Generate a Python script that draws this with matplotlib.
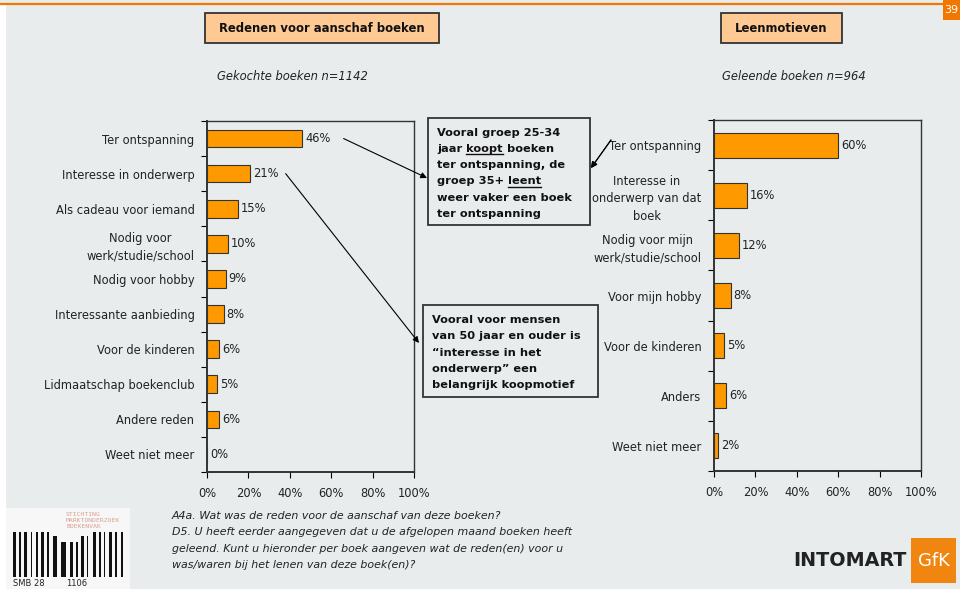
import matplotlib.pyplot as plt
from matplotlib.lines import Line2D
from matplotlib.patches import Rectangle

# --- data ---
buy_reasons = [
    "Ter ontspanning",
    "Interesse in onderwerp",
    "Als cadeau voor iemand",
    "Nodig voor\nwerk/studie/school",
    "Nodig voor hobby",
    "Interessante aanbieding",
    "Voor de kinderen",
    "Lidmaatschap boekenclub",
    "Andere reden",
    "Weet niet meer",
]
buy_pct = [46, 21, 15, 10, 9, 8, 6, 5, 6, 0]

lend_reasons = [
    "Ter ontspanning",
    "Interesse in\nonderwerp van dat\nboek",
    "Nodig voor mijn\nwerk/studie/school",
    "Voor mijn hobby",
    "Voor de kinderen",
    "Anders",
    "Weet niet meer",
]
lend_pct = [60, 16, 12, 8, 5, 6, 2]

x_ticks = [0, 20, 40, 60, 80, 100]

BG = "#e9eced"
ORANGE = "#ff9900"
W, H = 960, 589
fs = 8.3


def fx(px):
    return px / W


def fy(py):
    return 1 - py / H


fig = plt.figure(figsize=(9.6, 5.89), dpi=100, facecolor=BG)
plt.rcParams["font.family"] = ["DejaVu Sans"]


def bar_panel(rect, labels, values):
    ax = fig.add_axes(rect)
    ax.set_facecolor(BG)
    pos = list(range(len(labels)))
    ax.barh(pos, values, height=0.5, color=ORANGE, edgecolor="#333333", linewidth=0.8)
    for p, v in zip(pos, values):
        ax.text(v + 1.5, p, f"{v}%", va="center", ha="left", fontsize=fs, color="#222222")
    ax.set_xlim(0, 100)
    ax.set_ylim(len(labels) - 0.5, -0.5)
    ax.set_xticks(x_ticks, [f"{t}%" for t in x_ticks])
    ax.set_yticks(pos, labels)
    ax.set_yticks([p - 0.5 for p in pos] + [len(labels) - 0.5], minor=True)
    ax.tick_params(axis="y", which="major", length=0, pad=9, labelsize=fs, labelcolor="#222222")
    ax.tick_params(axis="y", which="minor", length=4, width=0.8, direction="out")
    ax.tick_params(axis="x", length=4, width=0.8, labelsize=fs, labelcolor="#222222", pad=7)
    for lbl in ax.get_yticklabels():
        lbl.set_multialignment("center")
        lbl.set_linespacing(1.45)
    for side in ["top", "right", "bottom", "left"]:
        ax.spines[side].set_linewidth(1.0)
        ax.spines[side].set_color("#333333")
    ax.spines["left"].set_linewidth(1.4)
    ax.spines["bottom"].set_linewidth(1.4)
    return ax


ax_buy = bar_panel([fx(207), fy(472), fx(414) - fx(207), fy(121) - fy(472)], buy_reasons, buy_pct)
ax_lend = bar_panel([fx(714), fy(471), fx(921) - fx(714), fy(120) - fy(471)], lend_reasons, lend_pct)

# slide decorations: top rule, page number, left strip
fig.add_artist(Line2D([0, 1], [fy(4), fy(4)], color="#f07800", lw=1.6))
fig.add_artist(Rectangle((0, 0), fx(6), fy(5), facecolor="white", edgecolor="none"))
fig.add_artist(Rectangle((fx(943), fy(20)), fx(17), fy(0) - fy(20), facecolor="#f07800", edgecolor="none"))
fig.text(fx(951), fy(10), "39", ha="center", va="center", color="white", fontsize=8)


def title_box(x0, x1, text):
    fig.add_artist(Rectangle((fx(x0), fy(43)), fx(x1) - fx(x0), fy(13) - fy(43),
                             facecolor="#ffc994", edgecolor="#333333", lw=1.3))
    fig.text(fx((x0 + x1) / 2), fy(28.5), text, ha="center", va="center",
             fontsize=8.4, fontweight="bold", color="#111111")


title_box(205, 439, "Redenen voor aanschaf boeken")
title_box(721, 842, "Leenmotieven")
fig.text(fx(217), fy(76), "Gekochte boeken n=1142", ha="left", va="center",
         fontsize=fs, style="italic", color="#222222")
fig.text(fx(722), fy(76), "Geleende boeken n=964", ha="left", va="center",
         fontsize=fs, style="italic", color="#222222")

renderer = fig.canvas.get_renderer()
inv = fig.transFigure.inverted()


def rich_line(x, y, segments):
    # draw a line of bold text; segments flagged True get underlined
    for s, ul in segments:
        t = fig.text(x, y, s, ha="left", va="baseline", fontsize=8.2,
                     fontweight="bold", color="#111111")
        bb = t.get_window_extent(renderer).transformed(inv)
        if ul:
            fig.add_artist(Line2D([bb.x0, bb.x1], [y - 2.2 / H, y - 2.2 / H],
                                  color="#111111", lw=1.0))
        x = bb.x1


def note_box(x0, x1, y0, y1, lines, tx, ty, step):
    fig.add_artist(Rectangle((fx(x0), fy(y1)), fx(x1) - fx(x0), fy(y0) - fy(y1),
                             facecolor="none", edgecolor="#333333", lw=1.3))
    for i, segs in enumerate(lines):
        rich_line(fx(tx), fy(ty + i * step), segs)


note_box(428, 590, 118, 225, [
    [("Vooral groep 25-34", False)],
    [("jaar ", False), ("koopt", True), (" boeken", False)],
    [("ter ontspanning, de", False)],
    [("groep 35+ ", False), ("leent", True)],
    [("weer vaker een boek", False)],
    [("ter ontspanning", False)],
], 437, 135.5, 16.3)

note_box(423, 598, 305, 397, [
    [("Vooral voor mensen", False)],
    [("van 50 jaar en ouder is", False)],
    [("\u201cinteresse in het", False)],
    [("onderwerp\u201d een", False)],
    [("belangrijk koopmotief", False)],
], 432, 323, 16.3)

arrow = dict(arrowstyle="-|>", color="black", lw=0.8, mutation_scale=9, shrinkA=0, shrinkB=0)
ax_buy.annotate("", xy=(fx(427), fy(178)), xycoords="figure fraction",
                xytext=(66, 0), textcoords="data", arrowprops=arrow, annotation_clip=False)
ax_buy.annotate("", xy=(fx(419), fy(343)), xycoords="figure fraction",
                xytext=(38, 1), textcoords="data", arrowprops=arrow, annotation_clip=False)
fig.add_artist(plt.annotate("", xy=(fx(591), fy(168)), xycoords="figure fraction",
                            xytext=(fx(611), fy(140)), textcoords="figure fraction",
                            arrowprops=arrow, annotation_clip=False))

# question wording
questions = [
    "A4a. Wat was de reden voor de aanschaf van deze boeken?",
    "D5. U heeft eerder aangegeven dat u de afgelopen maand boeken heeft",
    "geleend. Kunt u hieronder per boek aangeven wat de reden(en) voor u",
    "was/waren bij het lenen van deze boek(en)?",
]
for i, q in enumerate(questions):
    fig.text(fx(172), fy(516 + i * 16.4), q, ha="left", va="center",
             fontsize=7.9, style="italic", color="#222222")

# SMB logo: barcode with foundation name
logo = fig.add_axes([fx(6), fy(589), fx(124), fy(508) - fy(589)])
logo.set_xlim(0, 124)
logo.set_ylim(81, 0)
logo.axis("off")
logo.add_patch(Rectangle((0, 0), 124, 81, facecolor="#f7f7f7", edgecolor="none"))
widths = [3, 1, 2, 1, 3, 1, 1, 2, 2, 1, 3, 1, 2, 2, 4, 1, 5, 2, 3, 1, 2, 1, 3, 1, 1, 2, 3, 1,
          2, 1, 1, 2, 3, 1, 2, 1, 2, 1]
bx = 7
for i, bw in enumerate(widths):
    top = 28 if 12 < i < 26 else 24
    if 16 <= i <= 20:
        top = 34
    if i % 2 == 0:
        logo.add_patch(Rectangle((bx, top), bw, 69 - top, facecolor="#111111", edgecolor="none"))
    bx += bw + 1.1
for j, word in enumerate(["STICHTING", "MARKTONDERZOEK", "BOEKENVAK"]):
    logo.text(60, 6 + j * 6.5, word, fontsize=4.6, color="#d9a090", ha="left", va="center",
              family="DejaVu Sans Mono")
logo.text(7, 76, "SMB 28", fontsize=6, color="#222222", ha="left", va="center",
          family="DejaVu Sans")
logo.text(60, 76, "1106", fontsize=6, color="#222222", ha="left", va="center",
          family="DejaVu Sans")

# INTOMART GfK logo
fig.text(fx(907), fy(561), "INTOMART", ha="right", va="center", fontsize=13.8,
         fontweight="bold", color="#222222")
fig.add_artist(Rectangle((fx(911), fy(583)), fx(45), fy(538) - fy(583),
                         facecolor="#f0860f", edgecolor="none"))
fig.text(fx(933.5), fy(561), "GfK", ha="center", va="center", fontsize=13, color="white")

fig.savefig("out.png", dpi=100, facecolor=BG)
